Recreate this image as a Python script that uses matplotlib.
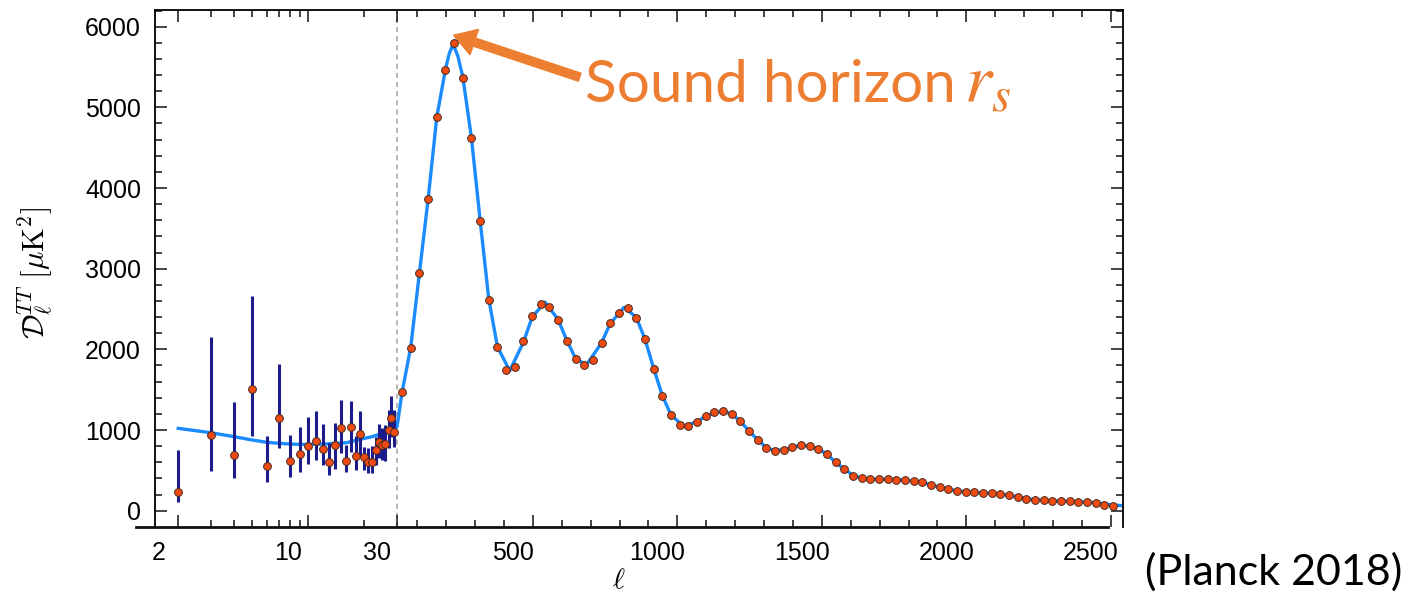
import numpy as np
import matplotlib
matplotlib.use("Agg")
import matplotlib.pyplot as plt
from matplotlib.transforms import ScaledTranslation
from matplotlib.lines import Line2D

# low-ell points (unbinned), with asymmetric error bars (lower / upper ends)
lowl_ell = [2, 3, 4, 5, 6, 7, 8, 9, 10, 11, 12, 13, 14, 15, 16, 17, 18, 19, 20,
            21, 22, 23, 24, 25, 26, 27, 28, 29]
lowl_dl = [228, 938, 690, 1504, 558, 1152, 616, 699, 805, 867, 764, 600, 810, 1028,
           620, 1041, 678, 954, 662, 607, 607, 752, 847, 814, 826, 1000, 1152, 979]
lowl_lo = [110, 492, 401, 929, 359, 773, 421, 483, 579, 628, 566, 442, 517, 711,
           483, 731, 504, 669, 504, 471, 471, 566, 649, 628, 616, 773, 917, 793]
lowl_hi = [752, 2148, 1350, 2660, 929, 1818, 938, 1041, 1165, 1235, 1074, 835, 1090, 1372,
           814, 1363, 926, 1239, 793, 773, 802, 909, 1074, 1025, 1062, 1248, 1421, 1248]

# high-ell binned points (bin width 30)
highl_ell = [47.5 + 30 * k for k in range(83)]
highl_dl = [1467, 2017, 2949, 3860, 4882, 5458, 5793, 5367, 4621, 3595,
            2618, 2030, 1750, 1780, 2100, 2415, 2564, 2531, 2370, 2100,
            1880, 1810, 1870, 2080, 2330, 2452, 2514, 2390, 2130, 1760,
            1420, 1180, 1060, 1050, 1100, 1170, 1220, 1230, 1200, 1110,
            990, 880, 780, 740, 750, 790, 810, 800, 770, 700,
            600, 520, 430, 400, 390, 395, 390, 385, 380, 370,
            350, 320, 290, 265, 245, 235, 228, 222, 215, 205,
            190, 170, 150, 135, 128, 122, 118, 120, 110, 105,
            95, 72, 58]

# best-fit model curve
theory_ell = [2, 3, 4, 5, 6, 7, 8, 9, 10, 12, 14, 16, 19, 22, 25, 27, 29, 30,
              47.5, 77.5, 107.5, 137.5, 167.5, 197.5, 210, 220, 230, 240, 257.5,
              287.5, 317.5, 347.5, 377.5, 420, 467.5, 497.5, 542, 587.5, 617.5,
              647.5, 685, 737.5, 767.5, 815, 857.5, 887.5, 917.5, 947.5, 977.5,
              1020, 1067.5, 1097.5, 1127.5, 1157.5, 1187.5, 1217.5, 1247.5, 1277.5,
              1315, 1367.5, 1397.5, 1430, 1457.5, 1487.5, 1517.5, 1547.5, 1577.5,
              1607.5, 1637.5, 1667.5, 1727.5, 1787.5, 1847.5, 1907.5, 1967.5,
              2027.5, 2087.5, 2147.5, 2207.5, 2267.5, 2327.5, 2387.5, 2447.5, 2507.5, 2543]
theory_dl = [1021, 966, 917, 876, 847, 835, 826, 822, 822, 826, 835, 842, 885, 917, 959, 979, 1008, 1041,
             1470, 2030, 2950, 3860, 4880, 5470, 5660, 5750, 5730, 5640, 5380,
             4620, 3600, 2620, 2030, 1735, 2090, 2400, 2585, 2370, 2110,
             1890, 1805, 2080, 2320, 2520, 2400, 2130, 1770, 1430, 1190,
             1050, 1100, 1170, 1215, 1230, 1200, 1110, 990, 880,
             760, 750, 790, 810, 800, 765, 700, 600, 515,
             440, 400, 390, 390, 380, 350, 290, 245,
             228, 215, 190, 150, 126, 118, 112, 98, 70, 62]

ELL_SWITCH = 30.0
K = 0.0015534


# log axis up to ell = 30, linear beyond
def fwd(x):
    x = np.asarray(x, dtype=float)
    lg = np.log10(np.clip(x, 1e-3, None))
    return np.where(x <= ELL_SWITCH, lg, np.log10(ELL_SWITCH) + (x - ELL_SWITCH) * K)


def inv(u):
    u = np.asarray(u, dtype=float)
    u0 = np.log10(ELL_SWITCH)
    return np.where(u <= u0, 10 ** np.clip(u, -3, u0), ELL_SWITCH + (u - u0) / K)


fig = plt.figure(figsize=(14.2, 6), dpi=100)
ax = fig.add_axes([155 / 1420, 72.7 / 600, 968.3 / 1420, 517.3 / 600])
ax.set_xscale("function", functions=(fwd, inv))

ax.axvline(ELL_SWITCH, color="#a8a8a8", ls=(0, (3, 2.5)), lw=1.2, zorder=1)
ax.plot(theory_ell, theory_dl, color="#1a8cff", lw=2.4, zorder=2)
lowl = np.array(lowl_dl)
ax.errorbar(lowl_ell, lowl_dl,
            yerr=[lowl - np.array(lowl_lo), np.array(lowl_hi) - lowl],
            fmt="none", ecolor="#1c1c8c", elinewidth=2.2, capsize=0, zorder=3)
ax.plot(lowl_ell + highl_ell, lowl_dl + highl_dl, "o", ms=5.6,
        mfc="#ee4a12", mec="#4a2a1e", mew=0.7, zorder=4)

ax.set_xlim(1.5, 2543)
ax.set_ylim(-206, 6207)

major_x = [2, 10, 30, 500, 1000, 1500, 2000, 2500]
minor_x = [3, 4, 5, 6, 7, 8, 9, 20] + [100 * i for i in range(1, 26) if i % 5 != 0]
ax.set_xticks(major_x)
ax.set_xticklabels([str(v) for v in major_x])
ax.set_xticks(minor_x, minor=True)
ax.set_yticks(range(0, 6001, 1000))
ax.set_yticks(range(0, 6201, 200), minor=True)

ax.tick_params(which="both", direction="in", top=True, right=True, width=1.1,
               color="#111111", labelsize=18)
ax.tick_params(which="major", length=8.8)
ax.tick_params(which="minor", length=5.3)
ax.tick_params(axis="x", pad=10)
ax.tick_params(axis="y", pad=10)
for lab in ax.get_xticklabels() + ax.get_yticklabels():
    lab.set_family("Liberation Sans")

for s in ["left", "right", "top"]:
    ax.spines[s].set_linewidth(1.3)
# bottom axis line is drawn a bit to the left in the original
ax.spines["bottom"].set_visible(False)
ax.add_line(Line2D([-0.0196, 0.9845], [0, 0], transform=ax.transAxes,
                   color="#111111", lw=2.0, clip_on=False))

ax.set_xlabel(r"$\ell$", fontsize=21, math_fontfamily="cm")
ax.xaxis.set_label_coords(0.479, -0.075)
ax.set_ylabel(r"$\mathcal{D}_{\ell}^{TT}\ [\mu\mathrm{K}^2]$", fontsize=22,
              math_fontfamily="cm")
ax.yaxis.set_label_coords(-0.103, 0.492)

ax.annotate("", xy=(226, 5894), xytext=(662, 5374),
            arrowprops=dict(arrowstyle="simple,head_length=1.3,head_width=1.6,tail_width=0.5",
                            mutation_scale=12, color="#ED7D31", shrinkA=0, shrinkB=0),
            annotation_clip=False)
fig.text(585 / 1420, (600 - 102) / 600, "Sound horizon", fontsize=42,
         family="Lato", color="#ED7D31", va="baseline")
fig.text(964 / 1420, (600 - 102) / 600, r"$r_s$", fontsize=50,
         color="#ED7D31", math_fontfamily="stix", va="baseline")
fig.text(1145 / 1420, (600 - 585) / 600, "(Planck 2018)", fontsize=31,
         family="Lato", color="black", va="baseline")

# the x tick labels sit a little to the left of their ticks in the original
fig.canvas.draw()
shift = ScaledTranslation(-0.2, 0, fig.dpi_scale_trans)
for tick in ax.xaxis.get_major_ticks():
    tick.label1.set_transform(tick.label1.get_transform() + shift)

fig.savefig("out.png", dpi=100)
